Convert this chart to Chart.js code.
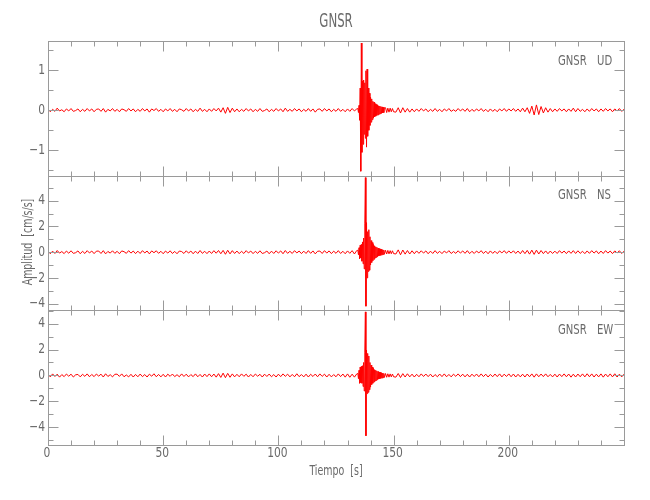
<!DOCTYPE html>
<html>
<head>
<meta charset="utf-8">
<title>GNSR</title>
<script src="https://cdn.jsdelivr.net/npm/chart.js@4.4.1/dist/chart.umd.min.js"></script>
<style>
    html, body { margin: 0; padding: 0; background: #fff; }
</style>
</head>
<body>
<canvas id="myChart" width="650" height="500"></canvas>
<script>
// sample times (s): quiet part, event, coda, quiet part
const tQuietA = [0,1,2,3,4,5,6,7,8,9,10,11,12,13,14,15,16,17,18,19,20,21,22,23,24,25,26,27,28,29,
    30,31,32,33,34,35,36,37,38,39,40,41,42,43,44,45,46,47,48,49,50,51,52,53,54,55,56,57,58,59,
    60,61,62,63,64,65,66,67,68,69,70,71,72,73,74,75,76,77,78,79,80,81,82,83,84,85,86,87,88,89,
    90,91,92,93,94,95,96,97,98,99,100,101,102,103,104,105,106,107,108,109,110,111,112,113,114,115,116,117,118,119,
    120,121,122,123,124,125,126,127,128,129,130,131,132,133,134];
const tEvent = [134.5,134.75,135,135.25,135.5,135.75,136,136.25,136.5,136.75,137,137.25,137.5,137.75,138,138.25,138.5,138.75,139,139.25,139.5,139.75,140,140.25,140.5,140.75,141,141.25,141.5,141.75,142,142.25,142.5,142.75,143,143.25,143.5,143.75,144,144.25,144.5,144.75,145,145.25,145.5,145.75,146];
const tCoda = [146.5,147,147.5,148,148.5,149,149.5,150];
const tQuietB = [151,152,153,154,155,156,157,158,159,160,161,162,163,164,165,166,167,168,169,170,171,172,173,174,175,176,177,178,179,180,
    181,182,183,184,185,186,187,188,189,190,191,192,193,194,195,196,197,198,199,200,201,202,203,204,205,206,207,208,209,210,
    211,212,213,214,215,216,217,218,219,220,221,222,223,224,225,226,227,228,229,230,231,232,233,234,235,236,237,238,239,240,
    241,242,243,244,245,246,247,248,249,250];

// UD component (cm/s/s)
const udQuietA = [0.03,-0.04,0.02,-0.03,0.05,-0.02,0.01,-0.04,0.03,-0.02,
    0.04,-0.03,-0.01,0.03,-0.04,0.02,-0.03,0.04,-0.02,0.03,
    -0.04,0.02,0.03,-0.03,0.04,-0.05,0.02,-0.02,0.04,-0.03,
    0.02,-0.04,0.03,0.01,-0.03,0.04,-0.02,0.03,-0.04,0.02,
    -0.03,0.04,-0.02,0.03,-0.05,0.03,-0.01,0.04,-0.03,0.02,
    -0.04,0.03,-0.02,0.04,-0.03,0.02,-0.04,0.03,0.01,-0.03,
    0.04,-0.02,0.03,-0.04,0.02,-0.03,0.05,-0.03,0.02,-0.04,
    0.03,-0.03,0.04,-0.02,0.05,-0.05,0.06,-0.08,0.07,-0.06,
    0.05,-0.04,0.03,-0.04,0.02,-0.03,0.04,-0.02,0.03,-0.04,
    0.02,-0.03,0.04,-0.03,-0.01,0.03,-0.04,0.02,-0.03,0.04,
    -0.02,0.03,-0.04,0.05,-0.03,0.02,-0.03,0.04,-0.02,0.03,
    -0.04,0.02,-0.03,0.04,-0.03,0.03,-0.05,0.02,0.03,-0.03,
    0.04,-0.02,0.03,-0.04,0.02,-0.03,0.04,-0.03,0.02,-0.04,
    0.03,-0.03,0.04,-0.02,0.03];
const udEvent = [0.04,-0.06,0.12,-0.25,0.55,-1.52,1.67,-1.05,0.72,-0.85,
    0.75,-0.6,0.68,-0.7,0.98,-0.92,1.02,-0.65,0.55,-0.5,
    0.42,-0.38,0.32,-0.3,0.28,-0.24,0.22,-0.2,0.2,-0.17,
    0.16,-0.15,0.14,-0.13,0.13,-0.12,0.11,-0.1,0.1,-0.09,
    0.09,-0.08,0.08,-0.07,0.07,-0.06,0.06];
const udCoda = [0.06,-0.06,0.05,-0.05,0.05,-0.04,0.04,-0.04];
const udQuietB = [-0.05,0.06,-0.07,0.06,-0.05,0.04,-0.05,0.03,-0.04,0.03,
    -0.03,0.04,-0.02,0.03,-0.04,0.02,-0.03,0.04,-0.03,0.02,
    -0.04,0.03,-0.02,0.04,-0.03,0.01,-0.03,0.04,-0.02,0.03,
    -0.03,0.04,-0.04,0.02,-0.03,0.03,-0.02,0.04,-0.03,0.02,
    -0.04,0.03,-0.03,0.02,-0.04,0.03,-0.02,0.04,-0.03,0.03,
    -0.02,0.04,-0.03,0.03,-0.04,0.05,-0.04,0.06,-0.08,0.1,
    -0.12,0.13,-0.11,0.09,-0.07,0.06,-0.05,0.04,-0.04,0.03,
    -0.03,0.04,-0.02,0.03,-0.04,0.03,-0.03,0.05,-0.04,0.04,
    -0.03,0.02,-0.04,0.03,-0.03,0.04,-0.02,0.03,-0.04,0.03,
    -0.03,0.04,-0.02,0.03,-0.04,0.03,-0.02,0.04,-0.03,0.02];

// NS component
const nsQuietA = [0.1,-0.12,0.08,-0.1,0.13,-0.07,0.05,-0.11,0.09,-0.08,
    0.11,-0.09,-0.04,0.1,-0.12,0.07,-0.1,0.12,-0.06,0.09,
    -0.11,0.08,0.09,-0.1,0.12,-0.13,0.06,-0.07,0.11,-0.09,
    0.07,-0.12,0.1,0.04,-0.09,0.12,-0.07,0.09,-0.11,0.08,
    -0.1,0.12,-0.06,0.09,-0.13,0.1,-0.04,0.11,-0.09,0.07,
    -0.12,0.09,-0.07,0.11,-0.1,0.06,-0.12,0.09,0.05,-0.1,
    0.11,-0.07,0.09,-0.12,0.08,-0.1,0.13,-0.09,0.07,-0.11,
    0.09,-0.1,0.12,-0.08,0.13,-0.12,0.14,-0.16,0.15,-0.13,
    0.12,-0.1,0.09,-0.11,0.07,-0.1,0.12,-0.06,0.09,-0.11,
    0.07,-0.09,0.11,-0.1,-0.04,0.09,-0.12,0.08,-0.1,0.11,
    -0.07,0.1,-0.12,0.13,-0.09,0.07,-0.1,0.12,-0.06,0.09,
    -0.11,0.08,-0.1,0.12,-0.09,0.1,-0.13,0.07,0.09,-0.1,
    0.12,-0.07,0.1,-0.11,0.08,-0.09,0.12,-0.1,0.07,-0.12,
    0.1,-0.09,0.12,-0.14,0.13];
const nsEvent = [0.15,-0.2,0.35,-0.5,0.55,-0.45,0.6,-0.7,0.8,-0.9,
    1.1,-1.3,2.2,5.8,-4.2,2.3,-2.0,1.6,-1.5,1.75,
    -1.4,1.2,-1.0,0.9,-0.8,0.75,-0.65,0.6,-0.55,0.5,
    -0.45,0.42,-0.4,0.38,-0.35,0.32,-0.3,0.28,-0.26,0.25,
    -0.24,0.22,-0.2,0.2,-0.18,0.17,-0.16];
const nsCoda = [0.15,-0.14,0.14,-0.13,0.12,-0.12,0.11,-0.11];
const nsQuietB = [-0.14,0.18,-0.2,0.17,-0.15,0.13,-0.14,0.11,-0.12,0.1,
    -0.09,0.11,-0.07,0.1,-0.12,0.08,-0.1,0.12,-0.09,0.07,
    -0.11,0.09,-0.06,0.12,-0.1,0.05,-0.09,0.11,-0.07,0.1,
    -0.09,0.12,-0.11,0.07,-0.1,0.09,-0.06,0.12,-0.1,0.08,
    -0.12,0.1,-0.09,0.07,-0.11,0.1,-0.06,0.12,-0.09,0.1,
    -0.07,0.11,-0.1,0.09,-0.12,0.13,-0.11,0.14,-0.15,0.16,
    -0.17,0.16,-0.14,0.13,-0.11,0.1,-0.12,0.09,-0.1,0.08,
    -0.1,0.12,-0.07,0.09,-0.11,0.1,-0.09,0.12,-0.1,0.11,
    -0.09,0.07,-0.11,0.1,-0.09,0.12,-0.07,0.1,-0.12,0.09,
    -0.1,0.12,-0.07,0.09,-0.11,0.1,-0.06,0.11,-0.1,0.08];

// EW component
const ewQuietA = [0.09,-0.11,0.12,-0.08,0.1,-0.13,0.07,-0.09,0.11,-0.06,
    0.1,-0.12,0.05,0.08,-0.11,0.09,-0.07,0.12,-0.1,0.08,
    -0.09,0.11,-0.05,0.1,-0.12,0.13,-0.08,0.06,-0.11,0.09,
    0.1,-0.07,0.12,-0.1,0.04,-0.11,0.09,-0.12,0.08,-0.1,
    0.11,-0.09,0.07,-0.12,0.1,-0.06,0.13,-0.1,0.08,-0.11,
    0.09,-0.12,0.1,-0.07,0.11,-0.09,0.06,-0.1,0.12,-0.08,
    0.1,-0.11,0.07,-0.09,0.12,-0.1,0.08,-0.12,0.11,-0.09,
    0.12,-0.1,0.11,-0.13,0.14,-0.15,0.18,-0.17,0.16,-0.14,
    0.12,-0.11,0.09,-0.1,0.12,-0.07,0.1,-0.12,0.08,-0.1,
    0.11,-0.06,0.09,-0.12,0.1,-0.08,0.11,-0.1,0.07,-0.12,
    0.1,-0.09,0.12,-0.07,0.1,-0.11,0.08,-0.1,0.13,-0.09,
    0.07,-0.11,0.1,-0.12,0.09,-0.08,0.11,-0.1,0.12,-0.07,
    0.1,-0.12,0.09,-0.11,0.07,-0.1,0.12,-0.09,0.11,-0.13,
    0.12,-0.14,0.1,-0.13,0.12];
const ewEvent = [0.15,-0.25,0.4,-0.6,0.65,-0.55,0.7,-0.6,0.75,-0.85,
    1.0,-1.2,1.8,4.9,-4.65,1.95,-1.4,1.7,-1.3,1.5,
    -1.1,1.0,-0.9,0.8,-0.7,0.65,-0.6,0.55,-0.5,0.45,
    -0.42,0.4,-0.38,0.35,-0.32,0.3,-0.28,0.26,-0.25,0.24,
    -0.22,0.2,-0.2,0.18,-0.17,0.16,-0.15];
const ewCoda = [0.15,-0.14,0.13,-0.13,0.12,-0.11,0.11,-0.1];
const ewQuietB = [-0.13,0.15,-0.16,0.14,-0.12,0.13,-0.11,0.1,-0.12,0.09,
    -0.1,0.12,-0.08,0.11,-0.09,0.1,-0.12,0.07,-0.1,0.11,
    -0.09,0.12,-0.1,0.08,-0.11,0.1,-0.07,0.12,-0.09,0.1,
    -0.11,0.09,-0.12,0.1,-0.08,0.11,-0.1,0.12,-0.09,0.1,
    -0.12,0.08,-0.1,0.11,-0.09,0.12,-0.11,0.1,-0.08,0.12,
    -0.1,0.11,-0.12,0.09,-0.11,0.1,-0.12,0.11,-0.1,0.12,
    -0.13,0.12,-0.1,0.11,-0.09,0.12,-0.1,0.08,-0.11,0.1,
    -0.12,0.11,-0.09,0.12,-0.1,0.11,-0.13,0.1,-0.12,0.11,
    -0.1,0.12,-0.11,0.13,-0.1,0.12,-0.12,0.1,-0.11,0.12,
    -0.13,0.11,-0.1,0.12,-0.11,0.13,-0.12,0.1,-0.11,0.1];

// tick labels
const xTickLabels = [0, 50, 100, 150, 200];
const udTickLabels = [-1, 0, 1];
const nsTickLabels = [-4, -2, 0, 2, 4];
const ewTickLabels = [-4, -2, 0, 2, 4];

const station = 'GNSR';
const times = [].concat(tQuietA, tEvent, tCoda, tQuietB);

const panels = [
    { id: 'yUD', comp: 'UD', values: [].concat(udQuietA, udEvent, udCoda, udQuietB), min: -1.63, max: 1.72, major: 1, minor: 0.5, labels: udTickLabels },
    { id: 'yNS', comp: 'NS', values: [].concat(nsQuietA, nsEvent, nsCoda, nsQuietB), min: -4.52, max: 5.95, major: 2, minor: 1, labels: nsTickLabels },
    { id: 'yEW', comp: 'EW', values: [].concat(ewQuietA, ewEvent, ewCoda, ewQuietB), min: -5.36, max: 5.02, major: 2, minor: 1, labels: ewTickLabels }
];

const FONT = '"Liberation Sans Narrow", "DejaVu Sans Condensed", sans-serif';
const AXIS_COLOR = '#9a9a9a';
const TEXT_COLOR = '#6a6a6a';

function fmt(v) {
    return v < 0 ? '\u2212' + Math.abs(v) : String(v);
}

// narrow text, a bit like the stroke font of the original plot
function label(ctx, str, x, y, align, size, squeeze) {
    ctx.save();
    ctx.translate(x, y);
    ctx.scale(squeeze, 1);
    ctx.font = size + 'px ' + FONT;
    ctx.textAlign = align;
    ctx.textBaseline = 'middle';
    ctx.fillText(str, 0, 0);
    ctx.restore();
}

const framePlugin = {
    id: 'frame',
    afterDraw(chart) {
        const ctx = chart.ctx;
        const xs = chart.scales.x;
        const left = Math.round(xs.left) + 0.5;
        const right = Math.round(xs.right) + 0.5;
        ctx.save();
        ctx.strokeStyle = AXIS_COLOR;
        ctx.fillStyle = TEXT_COLOR;
        ctx.lineWidth = 1;

        panels.forEach((p, k) => {
            const ys = chart.scales[p.id];
            const top = Math.round(ys.top) + 0.5;
            const bot = Math.round(ys.bottom) + 0.5;
            ctx.strokeRect(left, top, right - left, bot - top);

            ctx.beginPath();
            for (let v = 0; v <= 250; v += 10) {
                const px = Math.round(xs.getPixelForValue(v)) + 0.5;
                const len = v % 50 === 0 ? 10 : 5;
                ctx.moveTo(px, top); ctx.lineTo(px, top + len);
                ctx.moveTo(px, bot); ctx.lineTo(px, bot - len);
            }
            const start = Math.ceil(p.min / p.minor) * p.minor;
            for (let v = start; v <= p.max + 1e-9; v += p.minor) {
                const py = Math.round(ys.getPixelForValue(v)) + 0.5;
                const r = v / p.major;
                const len = Math.abs(r - Math.round(r)) < 1e-6 ? 10 : 5;
                ctx.moveTo(left, py); ctx.lineTo(left + len, py);
                ctx.moveTo(right, py); ctx.lineTo(right - len, py);
            }
            ctx.stroke();

            p.labels.forEach(v => label(ctx, fmt(v), 45, ys.getPixelForValue(v), 'right', 14, 0.85));

            label(ctx, station, 558, ys.top + 20, 'left', 14, 0.8);
            label(ctx, p.comp, 597, ys.top + 20, 'left', 14, 0.8);

            if (k === panels.length - 1) {
                xTickLabels.forEach(v => label(ctx, fmt(v), xs.getPixelForValue(v) - 1, bot + 8, 'center', 14, 0.85));
            }
        });

        const cx = (xs.left + xs.right) / 2;
        label(ctx, station, cx, 22, 'center', 20, 0.65);
        label(ctx, 'Tiempo  [s]', cx, 471, 'center', 14, 0.75);

        ctx.translate(28, 242);
        ctx.rotate(-Math.PI / 2);
        label(ctx, 'Amplitud  [cm/s/s]', 0, 0, 'center', 14, 0.75);
        ctx.restore();
    }
};

const scales = {
    x: { type: 'linear', min: 0, max: 250, display: false }
};
panels.forEach((p, k) => {
    scales[p.id] = {
        type: 'linear',
        position: 'left',
        min: p.min,
        max: p.max,
        display: false,
        stack: 'seis',
        stackWeight: 1,
        weight: panels.length - k
    };
});

let ctx = document.getElementById('myChart').getContext('2d');
let myChart = new Chart(ctx, {
    type: 'line',
    data: {
        datasets: panels.map(p => ({
            label: station + ' ' + p.comp,
            data: times.map((t, i) => ({ x: t, y: p.values[i] })),
            yAxisID: p.id,
            borderColor: '#ff0000',
            borderWidth: 1,
            pointRadius: 0,
            tension: 0,
            fill: false
        }))
    },
    options: {
        responsive: false,
        animation: false,
        layout: { padding: { left: 48, right: 26, top: 41, bottom: 55 } },
        plugins: {
            legend: { display: false },
            tooltip: { enabled: false }
        },
        scales: scales
    },
    plugins: [framePlugin]
});
</script>
</body>
</html>
